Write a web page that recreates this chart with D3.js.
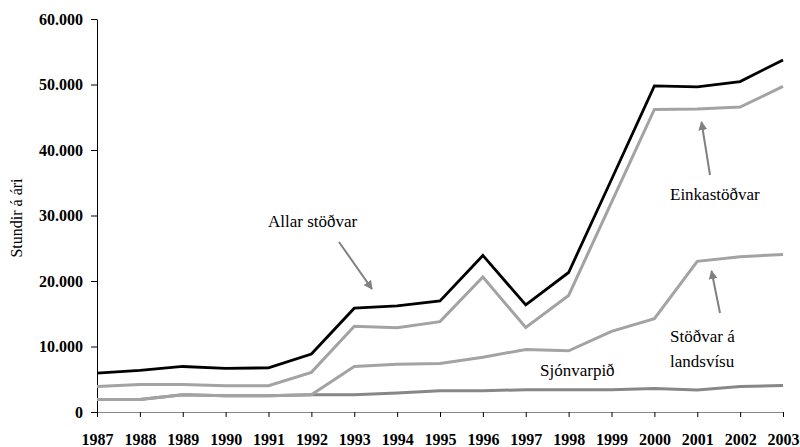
<!DOCTYPE html>
<html>
<head>
<meta charset="utf-8">
<script src="https://cdn.jsdelivr.net/npm/d3@7"></script>
<style>
  body { margin: 0; background: #fff; }
  svg, svg text { font-family: "Liberation Serif", "Times New Roman", Tinos, "DejaVu Serif", serif !important; }
</style>
</head>
<body>
<svg id="chart" width="800" height="447"></svg>
<script>
//  data
const years = [1987, 1988, 1989, 1990, 1991, 1992, 1993, 1994, 1995, 1996, 1997, 1998, 1999, 2000, 2001, 2002, 2003];
const allar = [5950, 6350, 6950, 6650, 6750, 8850, 15850, 16200, 16950, 23900, 16350, 21300, 35500, 49800, 49650, 50450, 53750];
const einka = [3900, 4200, 4200, 4000, 4000, 6050, 13100, 12850, 13800, 20600, 12900, 17800, 32000, 46200, 46250, 46550, 49700];
const landsvisu = [1900, 1900, 2650, 2500, 2500, 2650, 6950, 7300, 7400, 8350, 9550, 9350, 12300, 14250, 23000, 23700, 24050];
const sjonvarp = [1900, 1900, 2650, 2500, 2500, 2650, 2650, 2900, 3250, 3250, 3400, 3400, 3400, 3600, 3350, 3900, 4050];
const yTicks = [0, 10000, 20000, 30000, 40000, 50000, 60000];

const series = [
  {name: "Sjónvarpið", values: sjonvarp, color: "#878787", width: 3},
  {name: "Stöðvar á landsvísu", values: landsvisu, color: "#a3a3a3", width: 3},
  {name: "Einkastöðvar", values: einka, color: "#a3a3a3", width: 3},
  {name: "Allar stöðvar", values: allar, color: "#000", width: 2.8}
];

//  draw
function draw_chart() {
  const margin = ({top: 19, right: 17, bottom: 35, left: 97});
  const svg = d3.select("#chart");
  const w = +svg.attr("width");
  const h = +svg.attr("height");

  const x = d3.scaleLinear().domain([1987, 2003]).range([margin.left, w - margin.right]);
  const y = d3.scaleLinear().domain([0, 60000]).range([h - margin.bottom, margin.top]);

  const fmt = d => d3.format(",")(d).replace(/,/g, ".");

  //  x axis
  const gx = svg.append("g")
      .attr("transform", `translate(0,${y(0)})`)
      .call(d3.axisBottom(x).tickValues(years).tickFormat(d3.format("d")).tickSize(5).tickSizeOuter(0));
  gx.attr("font-family", null);
  gx.select(".domain").attr("stroke", "#888").attr("d", `M${margin.left - 5},0.5H${x(2003)}`);
  gx.selectAll(".tick line").attr("stroke", "#000");
  gx.selectAll("text")
      .attr("font-weight", "bold")
      .attr("font-size", 16)
      .attr("fill", "#000")
      .attr("y", 22);

  //  y axis
  const gy = svg.append("g")
      .attr("transform", `translate(${margin.left},0)`)
      .call(d3.axisLeft(y).tickValues(yTicks).tickFormat(fmt).tickSize(6).tickSizeOuter(0));
  gy.attr("font-family", null);
  gy.select(".domain").attr("stroke", "#000");
  gy.selectAll("text")
      .attr("font-weight", "bold")
      .attr("font-size", 16)
      .attr("fill", "#000")
      .attr("x", -14);

  svg.append("text")
      .attr("transform", `translate(22,218) rotate(-90)`)
      .attr("text-anchor", "middle")
      .attr("font-size", 16)
      .text("Stundir á ári");

  //  lines
  const line = d3.line().x((d, i) => x(years[i])).y(d => y(d));
  svg.selectAll(".series")
    .data(series)
    .join("path")
      .attr("fill", "none")
      .attr("stroke", d => d.color)
      .attr("stroke-width", d => d.width)
      .attr("stroke-linejoin", "miter")
      .attr("d", d => line(d.values));

  //  annotations
  svg.append("defs").append("marker")
      .attr("id", "arrow")
      .attr("viewBox", "0 0 10 10")
      .attr("refX", 9).attr("refY", 5)
      .attr("markerWidth", 4.5).attr("markerHeight", 4.5)
      .attr("orient", "auto")
    .append("path")
      .attr("d", "M0,0L10,5L0,10z")
      .attr("fill", "#808080");

  const arrows = [
    [339, 242, 372, 289],
    [710, 175, 701.5, 122],
    [720, 313, 711.5, 271]
  ];
  svg.selectAll(".arrow")
    .data(arrows)
    .join("line")
      .attr("x1", d => d[0]).attr("y1", d => d[1])
      .attr("x2", d => d[2]).attr("y2", d => d[3])
      .attr("stroke", "#808080")
      .attr("stroke-width", 2)
      .attr("marker-end", "url(#arrow)");

  const labels = [
    ["Allar stöðvar", 268, 227],
    ["Einkastöðvar", 670, 200],
    ["Stöðvar á", 670, 342],
    ["landsvísu", 670, 367],
    ["Sjónvarpið", 540, 376]
  ];
  svg.selectAll(".label")
    .data(labels)
    .join("text")
      .attr("x", d => d[1])
      .attr("y", d => d[2])
      .attr("font-size", 17)
      .attr("fill", "#000")
      .text(d => d[0]);
}

draw_chart();
</script>
</body>
</html>
